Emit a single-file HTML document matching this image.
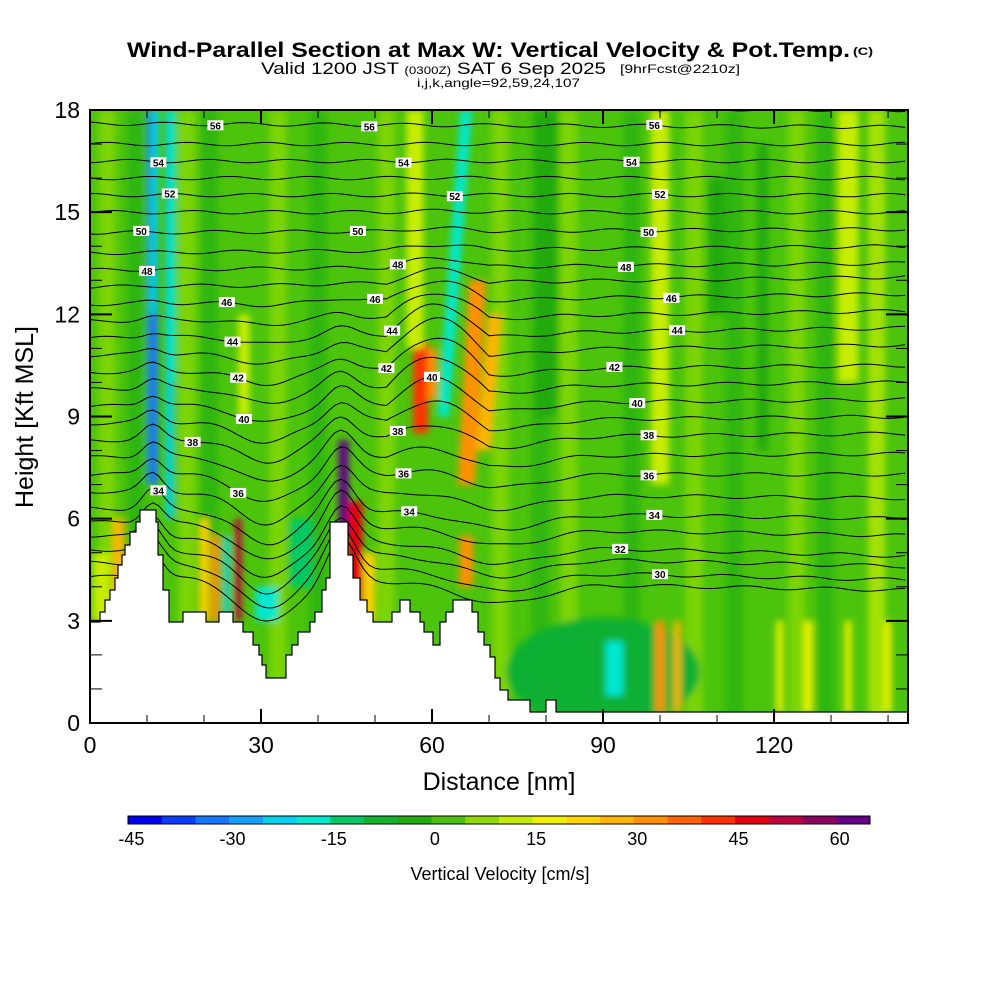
<!DOCTYPE html>
<html><head><meta charset="utf-8">
<style>
html,body{margin:0;padding:0;background:#fff;}
svg{display:block;font-family:"Liberation Sans",sans-serif;}
</style></head>
<body>
<svg id="chart" width="1000" height="1000" viewBox="0 0 1000 1000" xmlns="http://www.w3.org/2000/svg">
<defs>
 <filter id="blur" x="-5%" y="-5%" width="110%" height="110%"><feGaussianBlur stdDeviation="3.5"/></filter>
 <clipPath id="plotclip"><rect x="90" y="110" width="818" height="613"/></clipPath>
</defs>
<g>
 <text x="127" y="57" font-size="21" font-weight="bold" textLength="723" lengthAdjust="spacingAndGlyphs">Wind-Parallel Section at Max W: Vertical Velocity &amp; Pot.Temp.</text>
 <text x="853" y="55" font-size="11" font-weight="bold" textLength="20" lengthAdjust="spacingAndGlyphs">(C)</text>
 <text x="261" y="74" font-size="17" textLength="345" lengthAdjust="spacingAndGlyphs">Valid 1200 JST <tspan font-size="11">(0300Z)</tspan> SAT 6 Sep 2025</text>
 <text x="620" y="73" font-size="12" textLength="120" lengthAdjust="spacingAndGlyphs">[9hrFcst@2210z]</text>
 <text x="417" y="87" font-size="12" textLength="163" lengthAdjust="spacingAndGlyphs">i,j,k,angle=92,59,24,107</text>
</g>
<g id="field" clip-path="url(#plotclip)"></g>
<g id="contours" clip-path="url(#plotclip)"></g>
<g id="terrain"></g>
<g id="labels"></g>
<g id="axes"></g>
<g id="cbar"></g>
</svg>
<script>
// ---- data ----
const xTickValues = [0, 30, 60, 90, 120];
const yTickValues = [0, 3, 6, 9, 12, 15, 18];
const cbarLevels = [-45,-40,-35,-30,-25,-20,-15,-10,-5,0,5,10,15,20,25,30,35,40,45,50,55,60];
const cbarColors = ["#0000f0","#0a3cff","#1478ff","#14a0ff","#00d2f0","#00e8d0","#00c864","#10b430","#22aa10","#50c010","#90d800","#c8ec00","#f0f000","#ffd200","#ffb400","#ff9000","#ff6400","#ff3000","#e40010","#c00040","#8c0060","#640088"];
const cbarTickLabels = [-45,-30,-15,0,15,30,45,60];
// streaks: [xBottom nm, xTop nm, yBottom kft, yTop kft, halfWidth nm, w cm/s]
const streakX0 = [11, 11, 14, 14.5, 5, 20, 22, 24, 26, 31, 37, 44.5, 46.5, 49, 58, 60, 62, 66, 69, 66, 92, 100, 103, 121, 126, 133, 140, 57, 100, 133, 118, 80, 110, 2, 27];
const streakX1 = [11, 11.5, 14, 14.5, 5, 20, 22, 24, 26, 31, 37, 44.5, 46.5, 49, 58, 60, 66, 68, 71, 66, 92, 100, 103, 121, 126, 133, 140, 57, 100, 133, 118, 80, 110, 2, 27];
const streakY0 = [7, 12, 6, 10, 3, 3, 3, 3, 3, 3, 4, 5.5, 3, 3, 8.5, 9.5, 9, 7, 8, 4, 0.8, 0.3, 0.3, 0.3, 0.3, 0.3, 0.3, 11, 7, 10, 8, 9, 12, 3, 9];
const streakY1 = [18, 18, 18, 18, 6, 6, 5.5, 5.5, 6, 4, 6, 8.3, 6.5, 5, 11.2, 11, 18, 13, 12, 5.5, 2.4, 3, 3, 3, 3, 3, 3, 18, 18, 18, 17, 18, 16, 5, 12];
const streakHW = [0.9, 0.6, 0.7, 0.5, 1, 0.8, 0.7, 0.5, 0.6, 2, 2, 0.9, 1.3, 1, 1.3, 0.8, 1.0, 1.5, 1.2, 1.2, 1.5, 0.8, 0.6, 0.6, 0.8, 0.6, 0.6, 1.5, 1.6, 1.8, 1, 2, 1.5, 1.5, 1];
const streakW = [-35, -25, -25, -20, 25, 20, 30, -25, 50, -20, -15, 60, 45, 20, 40, 30, -20, 30, 25, 30, -20, 30, 25, 15, 15, 15, 15, 12, 12, 12, -5, -5, -5, 12, 12];
// theta contours (kft) at left and right edges, per level
const thetaLevels = [];
for (let t = 29; t <= 57; t++) thetaLevels.push(t);
const thetaLeftHeight = [4.3,4.7,5.1,5.5,5.9,6.3,6.8,7.3,7.8,8.3,8.8,9.3,9.8,10.3,10.8,11.3,11.8,12.3,12.8,13.3,13.8,14.4,15.0,15.5,16.0,16.5,17.0,17.6,18.1];
const thetaRightHeight = [3.9,4.2,4.6,4.9,5.5,6.0,6.6,7.3,7.9,8.5,9.0,9.5,10.0,10.5,11.1,11.6,12.1,12.6,13.1,13.5,14.0,14.5,15.0,15.5,16.0,16.5,17.0,17.5,18.0];
const contourLabelLevels = [56,54,52,50,48,46,44,42,40,38,36,34,32,30,28];
const labelLeftX = [22,12,14,9,10,24,25,26,27,18,26,12];
const labelMidX = [49,55,64,47,54,50,53,52,60,54,55,56,64];
const labelRightX = [99,95,100,98,94,102,103,92,96,98,98,99,93,100,104];
// terrain outline (pixel steps)
const terrainPx = [[90,622],[100,622],[100,612],[105,612],[105,600],[110,600],[110,590],[115,590],[115,578],[118,578],[118,565],[122,565],[122,555],[125,555],[125,545],[130,545],[130,532],[136,532],[136,522],[140,522],[140,510],[156,510],[156,522],[158,522],[158,555],[163,555],[163,590],[169,590],[169,622],[183,622],[183,612],[206,612],[206,622],[219,622],[219,612],[233,612],[233,622],[243,622],[243,632],[253,632],[253,645],[259,645],[259,655],[262,655],[262,665],[266,665],[266,678],[286,678],[286,655],[292,655],[292,645],[298,645],[298,632],[310,632],[310,622],[315,622],[315,612],[322,612],[322,590],[326,590],[326,578],[330,578],[330,522],[348,522],[348,555],[353,555],[353,578],[360,578],[360,600],[367,600],[367,612],[373,612],[373,622],[392,622],[392,612],[400,612],[400,600],[410,600],[410,612],[420,612],[420,622],[424,622],[424,632],[433,632],[433,645],[440,645],[440,622],[446,622],[446,612],[453,612],[453,600],[472,600],[472,612],[478,612],[478,632],[484,632],[484,645],[490,645],[490,657],[495,657],[495,678],[500,678],[500,690],[508,690],[508,700],[530,700],[530,712],[546,712],[546,700],[556,700],[556,712],[908,712]];

// ---- scales ----
const X0=90, X1=908, Y0=723, Y1=110, XMAX=143.5, YMAX=18;
const sx = v => X0 + v*(X1-X0)/XMAX;
const sy = v => Y0 - v*(Y0-Y1)/YMAX;
const NS="http://www.w3.org/2000/svg";
function mk(tag, parent, attrs){const e=document.createElementNS(NS,tag);for(const k in attrs)e.setAttribute(k,attrs[k]);parent.appendChild(e);return e;}
function colorFor(w){let i=0;for(let k=0;k<cbarLevels.length;k++){if(w>=cbarLevels[k]-2.5)i=k;}return cbarColors[i];}

// ---- field ----
const field=document.getElementById('field');
const bg=mk('rect',field,{x:X0,y:Y1,width:X1-X0,height:Y0-Y1,fill:"#4cc40c"});


const fg=mk('g',field,{filter:"url(#blur)"});
const bands=[[3,"#90dc00"],[8,"#22b010"],[17,"#90dc00"],[21,"#22b010"],[33,"#90dc00"],[40,"#22b010"],[52,"#90dc00"],[72,"#90dc00"],[79,"#22b010"],[84,"#90dc00"],[95,"#22b010"],[106,"#90dc00"],[113,"#22b010"],[124,"#90dc00"],[129,"#22b010"],[138,"#c8ec00"]];
bands.forEach(b=>{
 const r=mk('rect',fg,{x:sx(b[0]-1.5),y:Y1,width:sx(3)-sx(0),height:Y0-Y1,fill:b[1],opacity:0.7});
 
 
});
const low=mk('ellipse',fg,{cx:sx(90),cy:sy(1.5),rx:sx(17)-sx(0),ry:sy(0)-sy(1.6),fill:"#10b030"});


for(let i=0;i<streakW.length;i++){
 const hw=streakHW[i];
 const pts=[[sx(streakX0[i]-hw),sy(streakY0[i])],[sx(streakX1[i]-hw),sy(streakY1[i])],[sx(streakX1[i]+hw),sy(streakY1[i])],[sx(streakX0[i]+hw),sy(streakY0[i])]];
 const p=mk('polygon',fg,{points:pts.map(q=>q.join(',')).join(' '),fill:colorFor(streakW[i])});
 
 
}

// ---- contours ----
const cont=document.getElementById('contours');
function thetaHeight(li,x){
 const hl=thetaLeftHeight[li], hr=thetaRightHeight[li];
 const f=x/XMAX;
 let h=hl+(hr-hl)*f;
 const amp=Math.max(0,1-(h-4)/9);
 h+= -1.3*amp*Math.exp(-Math.pow((x-31)/7,2)) + 1.3*amp*Math.exp(-Math.pow((x-44)/3.5,2)) + 0.8*amp*Math.exp(-Math.pow((x-11)/2.5,2)) - 0.6*amp*Math.exp(-Math.pow((x-72)/10,2));
 if(x>52&&x<70){const k=Math.exp(-Math.pow((h-10.5)/2.5,2));h+=1.0*k*Math.sin((x-52)/18*Math.PI);}
 h+=0.05*Math.sin(x*0.45+li*1.7);
 return h;
}
for(let li=0;li<thetaLevels.length;li++){
 let d="";
 for(let x=0;x<=XMAX;x+=1){d+=(x?"L":"M")+sx(x).toFixed(1)+","+sy(thetaHeight(li,x)).toFixed(1);}
 const p=mk('path',cont,{d:d,fill:"none",stroke:"#000","stroke-width":1});
 
 
}

// ---- terrain ----
const ter=document.getElementById('terrain');
const tp=terrainPx.concat([[908,723],[90,723]]);
const tpoly=mk('polygon',ter,{points:tp.map(q=>q.join(',')).join(' '),fill:"#fff",stroke:"#000","stroke-width":1.2});



// ---- contour labels ----
const lab=document.getElementById('labels');
function addLabel(level,x){
 const li=thetaLevels.indexOf(level); if(li<0)return;
 const y=sy(thetaHeight(li,x));
 const g=mk('g',lab,{});
 
 
 mk('rect',g,{x:sx(x)-8,y:y-5,width:16,height:10,fill:"#fff"});
 const t=mk('text',g,{x:sx(x),y:y+4,"font-size":10,"text-anchor":"middle","font-weight":"bold"});
 t.textContent=level;
}
const lvls=[56,54,52,50,48,46,44,42,40,38,36,34];
lvls.forEach((l,i)=>{ if(labelLeftX[i]!==undefined) addLabel(l,labelLeftX[i]); });
lvls.forEach((l,i)=>{ if(labelMidX[i]!==undefined) addLabel(l,labelMidX[i]); });
contourLabelLevels.forEach((l,i)=>{ if(l>=29) addLabel(l,labelRightX[i]); });

// ---- axes ----
const ax=document.getElementById('axes');
const frame=mk('rect',ax,{x:X0,y:Y1,width:X1-X0,height:Y0-Y1,fill:"none",stroke:"#000","stroke-width":2});


for(let v=0;v<=XMAX;v+=10){
 const major=v%30===0, len=major?14:8;
 mk('line',ax,{x1:sx(v),x2:sx(v),y1:Y0,y2:Y0-len,stroke:"#000","stroke-width":major?2:1});
 mk('line',ax,{x1:sx(v),x2:sx(v),y1:Y1,y2:Y1+len,stroke:"#000","stroke-width":major?2:1});
}
for(let v=0;v<=YMAX;v+=1){
 const major=v%3===0, len=major?22:12;
 mk('line',ax,{x1:X0,x2:X0+len,y1:sy(v),y2:sy(v),stroke:"#000","stroke-width":major?2:1});
 mk('line',ax,{x1:X1,x2:X1-len,y1:sy(v),y2:sy(v),stroke:"#000","stroke-width":major?2:1});
}
xTickValues.forEach(v=>{
 const t=mk('text',ax,{x:sx(v),y:753,"font-size":23,"text-anchor":"middle"});
 
 
 t.textContent=v;
});
yTickValues.forEach(v=>{
 const t=mk('text',ax,{x:80,y:sy(v)+8,"font-size":23,"text-anchor":"end"});
 
 
 t.textContent=v;
});
const xt=mk('text',ax,{x:499,y:790,"font-size":25,"text-anchor":"middle"});


xt.textContent="Distance [nm]";
const yt=mk('text',ax,{x:0,y:0,"font-size":25,"text-anchor":"middle",transform:"translate(33,417) rotate(-90)"});


yt.textContent="Height [Kft MSL]";

// ---- colorbar ----
const cb=document.getElementById('cbar');
const CB0=128, CBW=(870-128)/cbarColors.length;
cbarColors.forEach((c,i)=>{
 const r=mk('rect',cb,{x:CB0+i*CBW,y:816,width:CBW+0.5,height:8,fill:c});
 
 
});
mk('rect',cb,{x:CB0,y:816,width:742,height:8,fill:"none",stroke:"#000","stroke-width":1});
cbarTickLabels.forEach(v=>{
 const i=cbarLevels.indexOf(v);
 const t=mk('text',cb,{x:CB0+(i+0.1)*CBW,y:845,"font-size":18,"text-anchor":"middle"});
 
 
 t.textContent=v;
});
const ct=mk('text',cb,{x:500,y:880,"font-size":18,"text-anchor":"middle"});


ct.textContent="Vertical Velocity [cm/s]";
</script>
</body></html>
